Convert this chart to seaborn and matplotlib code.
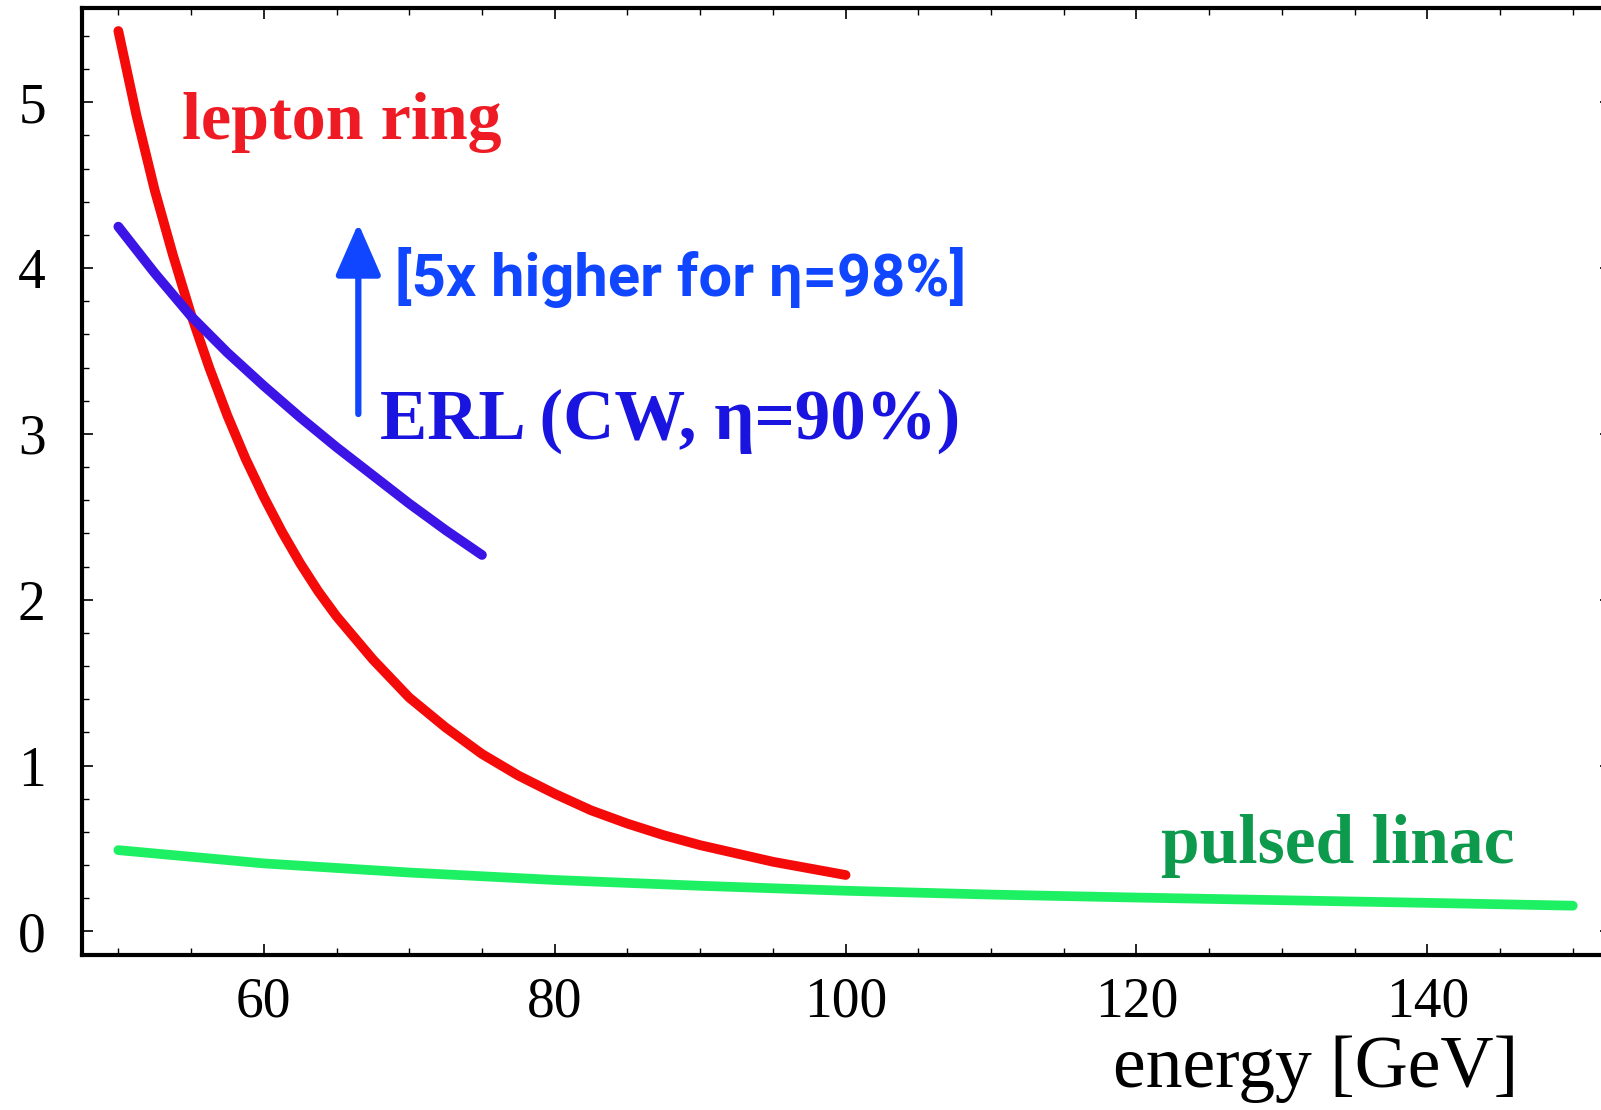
import pandas as pd
import matplotlib
matplotlib.use("Agg")
import matplotlib.pyplot as plt
from matplotlib.ticker import MultipleLocator
import seaborn as sns

# curve values
ring_energy = [50, 51.25, 52.5, 53.75, 55, 56.25, 57.5, 58.75, 60, 61.25, 62.5, 63.75, 65,
               67.5, 70, 72.5, 75, 77.5, 80, 82.5, 85, 87.5, 90, 95, 100]
ring_value = [5.43, 4.92, 4.47, 4.08, 3.72, 3.40, 3.11, 2.85, 2.62, 2.41, 2.22, 2.05, 1.90,
              1.64, 1.41, 1.23, 1.07, 0.94, 0.83, 0.73, 0.65, 0.58, 0.52, 0.42, 0.34]

erl_energy = [50, 51.25, 52.5, 53.75, 55, 57.5, 60, 62.5, 65, 67.5, 70, 72.5, 75]
erl_value = [4.25, 4.11, 3.97, 3.84, 3.71, 3.49, 3.29, 3.10, 2.92, 2.75, 2.58, 2.42, 2.27]

linac_energy = [50, 60, 70, 80, 90, 100, 110, 120, 130, 140, 150]
linac_value = [0.49, 0.41, 0.355, 0.31, 0.275, 0.245, 0.222, 0.204, 0.188, 0.172, 0.155]

series_names = ["lepton ring", "ERL", "pulsed linac"]
line_colors = {"lepton ring": "#f50a0a", "ERL": "#3c14e6", "pulsed linac": "#1ef064"}

x_ticks = [60, 80, 100, 120, 140]
y_ticks = [0, 1, 2, 3, 4, 5]

# arrow: energy, from -> to
arrow_x = 66.5
arrow_y = (3.12, 4.27)


def _long_frame():
    """Stacks the three curves into one long table for seaborn"""
    parts = []
    for name, xs, ys in zip(series_names,
                            [ring_energy, erl_energy, linac_energy],
                            [ring_value, erl_value, linac_value]):
        parts.append(pd.DataFrame({"energy": xs, "value": ys, "series": name}))
    return pd.concat(parts, ignore_index=True)


sns.set_theme(style="ticks")
plt.rcParams["font.family"] = ["Liberation Serif", "DejaVu Serif"]
plt.rcParams["text.color"] = "black"
plt.rcParams["xtick.color"] = "black"
plt.rcParams["ytick.color"] = "black"

fig = plt.figure(figsize=(16.01, 11.10), dpi=100)
ax = fig.add_axes([0.0512, 0.140, 0.9548, 0.853])

df = _long_frame()
sns.lineplot(data=df, x="energy", y="value", hue="series", palette=line_colors,
             linewidth=7, sort=False, estimator=None, legend=False, ax=ax)
for line in ax.lines:
    line.set_solid_capstyle("round")
    line.set_solid_joinstyle("round")

ax.set_xlim(47.5, 152.6)
ax.set_ylim(-0.14, 5.57)

# ticks all round, pointing inwards
ax.xaxis.set_minor_locator(MultipleLocator(5))
ax.yaxis.set_minor_locator(MultipleLocator(0.2))
ax.set_xticks(x_ticks)
ax.set_yticks(y_ticks)
ax.tick_params(which="both", direction="in", top=True, right=True, color="black")
ax.tick_params(which="major", length=8, width=1.2)
ax.tick_params(which="minor", length=5, width=1.0)
ax.tick_params(axis="x", which="major", labelsize=40, pad=16)
ax.tick_params(axis="y", which="major", labelsize=40, pad=26)

for side in ["left", "bottom", "top"]:
    ax.spines[side].set_linewidth(3)
    ax.spines[side].set_color("black")
ax.spines["right"].set_visible(False)

ax.set_xlabel("")
ax.set_ylabel("")

# annotations
ax.text(54.4, 4.78, "lepton ring", color="#ee1b24", fontsize=49, fontweight="bold")
ax.text(68.0, 2.97, "ERL (CW, η=90%)", color="#1a14e0", fontsize=51, fontweight="bold")
ax.text(69.05, 3.83, "[5x higher for η=98%]", color="#1046ff", fontsize=43, fontweight="bold",
        family=["Roboto", "Open Sans", "DejaVu Sans"])
ax.text(121.7, 0.41, "pulsed linac", color="#0e9a4c", fontsize=50, fontweight="bold")

ax.annotate("", xy=(arrow_x, arrow_y[1]), xytext=(arrow_x, arrow_y[0]),
            arrowprops=dict(arrowstyle="-|>,head_length=1.6,head_width=0.7",
                            color="#1046ff", lw=4.5, mutation_scale=20,
                            shrinkA=0, shrinkB=0))

fig.text(0.695, 0.021, "energy [GeV]", fontsize=53, color="black")

fig.savefig("out.png", dpi=100)
